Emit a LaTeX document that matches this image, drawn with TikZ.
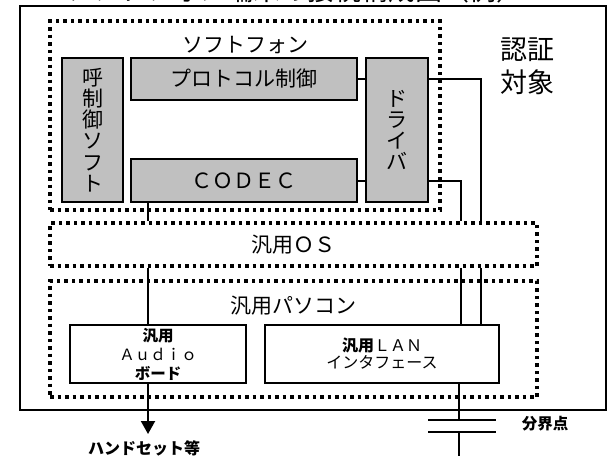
\documentclass[tikz,border=0pt]{standalone}
\usepackage{fontspec}
\setmainfont{Noto Sans CJK JP}
\usetikzlibrary{calc,arrows.meta}
\definecolor{boxgray}{RGB}{192,192,192}
\tikzset{>={Triangle[width=14pt,length=13pt]}}
\tikzset{gbox/.style = {draw, fill=boxgray, line width=2pt, rectangle, inner sep=0pt,
                  align=center, font=\fontsize{21}{21.3}\selectfont},
        wbox/.style = {draw, fill=white, line width=2pt, rectangle, inner sep=0pt,
                  align=center, font=\fontsize{16}{17}\selectfont},
        dbox/.style = {draw, line width=3.5pt, dash pattern=on 3.5pt off 4pt, rectangle,
                  inner sep=0pt, font=\fontsize{21}{21.3}\selectfont}
    }

\begin{document}
\begin{tikzpicture}[x=1pt,y=-1pt]
    \tikzstyle{txt} = [inner sep=0pt, align=center, font=\fontsize{21}{21.3}\selectfont]
    \tikzstyle{wire} = [line width=2pt]

    \useasboundingbox (0,0) rectangle (609,456);
    \clip (0,0) rectangle (609,456);

    \node[txt, font=\fontsize{27}{27}\selectfont, anchor=base] (title) at (294,0) {ソフトフォン端末の接続構成図（例）};
    \node[draw, line width=2.4pt, minimum width=586pt, minimum height=404pt] (scope) at (313,208) {};
    \node[txt, font=\fontsize{27}{33}\selectfont] (target) at (527,66) {認証\\対象};

    % softphone
    \node[dbox, minimum width=390pt, minimum height=189pt] (softphone) at (245,115.5) {};
    \node[txt] (sptitle) at (245,45) {ソフトフォン};
    \node[gbox, minimum width=61pt, minimum height=144pt] (callctl) at (92.5,130) {呼\\制\\御\\ソ\\フ\\ト};
    \node[gbox, minimum width=226pt, minimum height=42pt] (proto) at (244,79) {プロトコル制御};
    \node[gbox, minimum width=226pt, minimum height=43pt] (codec) at (244,180.5) {ＣＯＤＥＣ};
    \node[gbox, minimum width=62pt, minimum height=144pt] (driver) at (397,130) {ド\\ラ\\イ\\バ};

    % os and pc
    \node[dbox, minimum width=487pt, minimum height=43pt] (os) at (293.5,244.5) {汎用ＯＳ};
    \node[dbox, minimum width=487pt, minimum height=116pt] (pc) at (293.5,339) {};
    \node[txt] (pctitle) at (293,306) {汎用パソコン};
    \node[wbox, font=\fontsize{15.5}{19}\selectfont, minimum width=176pt, minimum height=58pt] (audio) at (158,354)
        {{\bfseries 汎用}\\Ａｕｄｉｏ\\{\bfseries ボード}};
    \node[wbox, minimum width=234pt, minimum height=58pt] (lan) at (382,354) {{\bfseries 汎用}ＬＡＮ\\インタフェース};

    \node[txt, font=\fontsize{16}{16}\selectfont\bfseries] (handset) at (144,448) {ハンドセット等};
    \node[txt, font=\fontsize{15.5}{16}\selectfont\bfseries] (demarc) at (545,424) {分界点};

    \coordinate (ca) at (148,0);
    \coordinate (la) at (461,0);
    \coordinate (lb) at (481,0);
    \coordinate (lc) at (459,0);
    \coordinate (tip) at (148,434);
    \coordinate (capa) at (462,420);
    \coordinate (capb) at (462,432);
    \coordinate (line) at (459,456);

    \draw[wire] (proto.east) -- (proto.east -| driver.west);
    \draw[wire] (codec.east) -- (codec.east -| driver.west);
    \draw[wire] (driver.east |- proto) -| (os.north -| lb);
    \draw[wire] (driver.east |- codec) -| (os.north -| la);
    \draw[wire] (codec.south -| ca) -- (os.north -| ca);
    \draw[wire] (os.south -| ca) -- (audio.north -| ca);
    \draw[wire] (os.south -| la) -- (lan.north -| la);
    \draw[wire] (os.south -| lb) -- (lan.north -| lb);
    \draw[wire,->] (audio.south -| ca) -- (tip);

    % demarcation point
    \draw[wire] (lan.south -| lc) -- (capa -| lc);
    \draw[wire] ($(capa)+(-34,0)$) -- ($(capa)+(34,0)$);
    \draw[wire] ($(capb)+(-34,0)$) -- ($(capb)+(34,0)$);
    \draw[wire] (capb -| lc) -- (line);
\end{tikzpicture}
\end{document}
